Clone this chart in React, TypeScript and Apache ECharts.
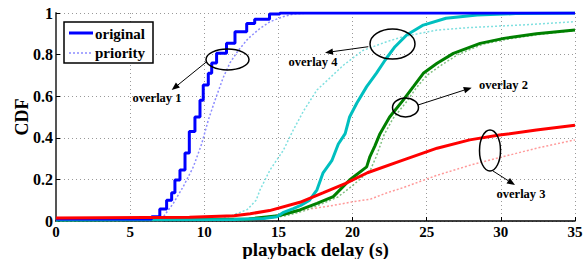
import React, { useEffect, useRef } from "react";
import * as echarts from "echarts";

const xTicks = [0, 5, 10, 15, 20, 25, 30, 35];
const yTicks = [0, 0.2, 0.4, 0.6, 0.8, 1];

// overlay 1 (blue)
const blueOrigX = [0, 6.45, 7.0, 7.46, 7.8, 8.02, 8.36, 8.7, 8.99, 9.37, 9.71, 9.93, 10.27, 10.5, 10.83, 11.5, 12.07, 12.86, 13.4, 14.4, 15.1, 35];
const blueOrigY = [0.01, 0.02, 0.058, 0.1, 0.136, 0.197, 0.245, 0.327, 0.43, 0.5, 0.58, 0.654, 0.71, 0.76, 0.806, 0.854, 0.91, 0.95, 0.97, 0.995, 1, 1];
const bluePrioX = [0, 7.24, 7.91, 8.58, 9.26, 9.82, 10.27, 10.72, 11.28, 11.73, 12.29, 12.97, 13.76, 14.43, 15.3, 16, 17, 35];
const bluePrioY = [0.005, 0.02, 0.085, 0.165, 0.26, 0.37, 0.485, 0.58, 0.69, 0.76, 0.82, 0.878, 0.926, 0.958, 0.982, 0.995, 1, 1];

// overlay 4 (cyan)
const cyanOrigX = [0, 12, 14, 14.9, 15.3, 16, 16.5, 17.1, 17.6, 18.0, 18.6, 19.04, 19.5, 19.8, 20.28, 20.95, 21.6, 22.2, 22.86, 23.65, 24.77, 26.3, 28.4, 31, 35];
const cyanOrigY = [0.005, 0.007, 0.012, 0.02, 0.04, 0.06, 0.075, 0.1, 0.15, 0.23, 0.29, 0.37, 0.42, 0.5, 0.566, 0.646, 0.71, 0.774, 0.838, 0.894, 0.942, 0.975, 0.99, 0.997, 1];
const cyanPrioX = [0, 10, 11.2, 12, 12.9, 13.5, 13.76, 14.43, 15.33, 16.0, 16.7, 17.6, 18.5, 19.4, 20.7, 22.3, 23.4, 25.7, 27.9, 31.3, 35];
const cyanPrioY = [0.003, 0.005, 0.01, 0.03, 0.055, 0.1, 0.15, 0.245, 0.34, 0.4375, 0.53, 0.63, 0.69, 0.75, 0.82, 0.862, 0.886, 0.918, 0.93, 0.942, 0.958];

// overlay 2 (green)
const greenOrigX = [0, 13, 15, 16.45, 17.6, 18.7, 19.8, 20.95, 21.17, 21.5, 21.85, 22.5, 23.4, 24.1, 24.77, 25.7, 26.8, 28.6, 30.2, 32.4, 35];
const greenOrigY = [0.005, 0.01, 0.025, 0.053, 0.085, 0.117, 0.197, 0.26, 0.31, 0.36, 0.42, 0.5, 0.58, 0.646, 0.71, 0.758, 0.806, 0.854, 0.878, 0.9, 0.918];
const greenPrioX = [0, 14, 15.5, 16.8, 18, 19, 20, 21.2, 21.6, 22.1, 22.7, 23.6, 24.3, 25, 26, 27.1, 28.8, 30.5, 32.6, 35];
const greenPrioY = [0.003, 0.01, 0.025, 0.05, 0.085, 0.115, 0.17, 0.245, 0.31, 0.41, 0.49, 0.57, 0.64, 0.7, 0.75, 0.8, 0.85, 0.875, 0.897, 0.915];

// overlay 3 (red)
const redOrigX = [0, 9, 12, 13.1, 14.4, 16.45, 18, 19.5, 21, 23.3, 25.7, 27.9, 29.9, 32.4, 35];
const redOrigY = [0.015, 0.018, 0.025, 0.035, 0.05, 0.09, 0.135, 0.18, 0.232, 0.29, 0.35, 0.39, 0.413, 0.437, 0.46];
const redPrioX = [0, 12, 14.2, 16.45, 18.7, 20.05, 21.2, 22.3, 23.4, 25.7, 28, 30.2, 32.4, 35];
const redPrioY = [0, 0.005, 0.02, 0.05, 0.075, 0.093, 0.105, 0.135, 0.16, 0.22, 0.27, 0.31, 0.35, 0.39];

const legendNames = ["original", "priority"];

const zip = (xs: number[], ys: number[]) => xs.map((x, i) => [x, ys[i]]);

const SERIF = "'Liberation Serif', 'DejaVu Serif', serif";

function arrow(x1: number, y1: number, x2: number, y2: number) {
  const ang = Math.atan2(y2 - y1, x2 - x1);
  const L = 8;
  const W = 3.2;
  const bx = x2 - L * Math.cos(ang);
  const by = y2 - L * Math.sin(ang);
  const px = -Math.sin(ang) * W;
  const py = Math.cos(ang) * W;
  return [
    { type: "line", shape: { x1, y1, x2: bx, y2: by }, style: { stroke: "#000", lineWidth: 1 }, z: 20 },
    {
      type: "polygon",
      shape: { points: [[x2, y2], [bx + px, by + py], [bx - px, by - py]] },
      style: { fill: "#000" },
      z: 20,
    },
  ];
}

function ellipse(cx: number, cy: number, rx: number, ry: number) {
  return { type: "ellipse", shape: { cx, cy, rx, ry }, style: { fill: "none", stroke: "#000", lineWidth: 1.5 }, z: 20 };
}

function label(text: string, x: number, y: number) {
  return {
    type: "text",
    x,
    y,
    style: { text, fontFamily: SERIF, fontWeight: "bold", fontSize: 12.5, fill: "#000", align: "center", verticalAlign: "middle" },
    z: 20,
  };
}

export default function App() {
  const ref = useRef<HTMLDivElement>(null);
  useEffect(() => {
    if (!ref.current) return;
    const chart = echarts.init(ref.current, undefined, { renderer: "svg" });
    const mk = (name: string, xs: number[], ys: number[], color: string, orig: boolean, step: boolean) => ({
      name,
      type: "line",
      data: zip(xs, ys),
      showSymbol: false,
      symbol: "none",
      step: step ? "end" : false,
      lineStyle: orig ? { color, width: 3, type: "solid" } : { color, width: 1.5, type: [2, 2] },
      itemStyle: { color },
      emphasis: { disabled: true },
    });
    chart.setOption({
      animation: false,
      grid: { left: 56, right: 13, top: 13, bottom: 38, containLabel: false, outerBoundsMode: "none" },
      xAxis: {
        type: "value",
        min: 0,
        max: 35,
        interval: 5,
        name: "playback delay (s)",
        nameLocation: "middle",
        nameGap: 28,
        nameMoveOverlap: false,
        nameTextStyle: { fontFamily: SERIF, fontWeight: "bold", fontSize: 19, color: "#000", verticalAlign: "middle", lineHeight: 19 },
        axisLine: { show: true, lineStyle: { color: "#000", width: 1.5 } },
        axisTick: { show: true, inside: true, length: 4, lineStyle: { color: "#000" } },
        axisLabel: { fontFamily: SERIF, fontWeight: "bold", fontSize: 15, color: "#000", margin: 3, lineHeight: 15 },
        splitLine: { show: true, lineStyle: { color: "#999", type: [1, 3], width: 1 } },
        data: xTicks,
      },
      yAxis: {
        type: "value",
        min: 0,
        max: 1,
        interval: 0.2,
        name: "CDF",
        nameLocation: "middle",
        nameGap: 34,
        nameMoveOverlap: false,
        nameTextStyle: { fontFamily: SERIF, fontWeight: "bold", fontSize: 18, color: "#000", verticalAlign: "middle" },
        axisLine: { show: true, lineStyle: { color: "#555", width: 2 } },
        axisTick: { show: true, inside: true, length: 4, lineStyle: { color: "#000" } },
        axisLabel: {
          fontFamily: SERIF,
          fontWeight: "bold",
          fontSize: 16,
          color: "#000",
          margin: 3,
          formatter: (v: number) => String(yTicks.find((t) => Math.abs(t - v) < 1e-9) ?? v),
        },
        splitLine: { show: true, lineStyle: { color: "#999", type: [1, 3], width: 1 } },
      },
      series: [
        mk("overlay 3 priority", redPrioX, redPrioY, "#ff9a9a", false, false),
        mk("overlay 2 priority", greenPrioX, greenPrioY, "#80c080", false, false),
        mk("overlay 4 priority", cyanPrioX, cyanPrioY, "#80e0e0", false, false),
        mk("overlay 1 priority", bluePrioX, bluePrioY, "#8c8cff", false, false),
        mk("overlay 2 original", greenOrigX, greenOrigY, "#008000", true, false),
        mk("overlay 4 original", cyanOrigX, cyanOrigY, "#00bfbf", true, false),
        mk("overlay 1 original", blueOrigX, blueOrigY, "#0000ff", true, true),
        mk("overlay 3 original", redOrigX, redOrigY, "#ff0000", true, false),
      ],
      graphic: [
        { type: "rect", shape: { x: 64, y: 22, width: 89, height: 41 }, style: { fill: "#fff", stroke: "#000", lineWidth: 1.5 }, z: 30 },
        { type: "line", shape: { x1: 69, y1: 33, x2: 93, y2: 33 }, style: { stroke: "#0000ff", lineWidth: 3 }, z: 31 },
        { type: "line", shape: { x1: 69, y1: 53, x2: 93, y2: 53 }, style: { stroke: "#8c8cff", lineWidth: 1.5, lineDash: [2, 2] }, z: 31 },
        {
          type: "text", x: 95, y: 34, z: 31,
          style: { text: legendNames[0], fontFamily: SERIF, fontWeight: "bold", fontSize: 15, fill: "#000", verticalAlign: "middle" },
        },
        {
          type: "text", x: 95, y: 53, z: 31,
          style: { text: legendNames[1], fontFamily: SERIF, fontWeight: "bold", fontSize: 15, fill: "#000", verticalAlign: "middle" },
        },
        ellipse(227.5, 59.5, 21.5, 10.5),
        ...arrow(206.7, 61.7, 171.7, 90),
        label("overlay 1", 157, 98),
        ellipse(392.5, 44, 22.5, 15),
        ...arrow(368.3, 46.7, 325, 52.7),
        label("overlay 4", 313, 62),
        ellipse(405.5, 107.5, 13, 9.5),
        ...arrow(418, 105, 471.7, 87.7),
        label("overlay 2", 503.5, 85),
        ellipse(490, 150.5, 10.5, 20.5),
        ...arrow(493, 171, 515, 185),
        label("overlay 3", 521, 194),
      ],
    });
    return () => chart.dispose();
  }, []);
  return <div ref={ref} style={{ width: 588, height: 259, position: "absolute", left: 0, top: 0 }} />;
}
